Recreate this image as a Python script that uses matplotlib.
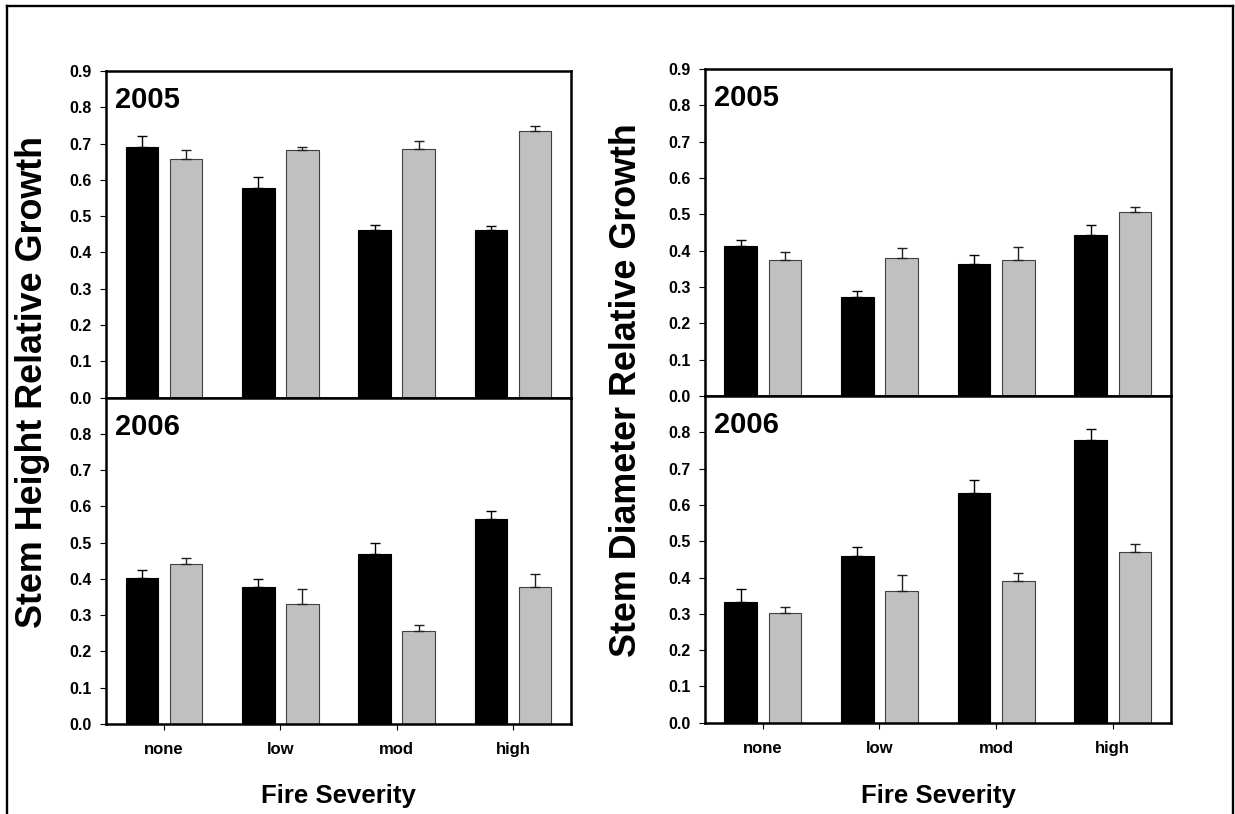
import numpy as np
import matplotlib
matplotlib.use('Agg')
import matplotlib.pyplot as plt
from matplotlib.lines import Line2D

# Fonte parecida com Arial em negrito
plt.rcParams['font.family'] = ['Liberation Sans', 'DejaVu Sans']
plt.rcParams['font.weight'] = 'bold'

# Categorias de severidade do fogo
categorias = ['none', 'low', 'mod', 'high']

# Altura do caule - 2005
altura_2005_preto = [0.691, 0.577, 0.462, 0.461]
altura_2005_preto_err = [0.029, 0.032, 0.015, 0.011]
altura_2005_cinza = [0.657, 0.681, 0.686, 0.736]
altura_2005_cinza_err = [0.024, 0.011, 0.021, 0.012]

# Altura do caule - 2006
altura_2006_preto = [0.402, 0.378, 0.470, 0.565]
altura_2006_preto_err = [0.022, 0.023, 0.028, 0.022]
altura_2006_cinza = [0.441, 0.332, 0.256, 0.379]
altura_2006_cinza_err = [0.016, 0.041, 0.018, 0.034]

# Diametro do caule - 2005
diam_2005_preto = [0.413, 0.272, 0.362, 0.442]
diam_2005_preto_err = [0.017, 0.018, 0.027, 0.028]
diam_2005_cinza = [0.374, 0.381, 0.374, 0.507]
diam_2005_cinza_err = [0.022, 0.026, 0.037, 0.014]

# Diametro do caule - 2006
diam_2006_preto = [0.332, 0.460, 0.632, 0.780]
diam_2006_preto_err = [0.037, 0.024, 0.037, 0.030]
diam_2006_cinza = [0.302, 0.362, 0.390, 0.469]
diam_2006_cinza_err = [0.017, 0.045, 0.023, 0.024]

W, H = 1235, 814
fig = plt.figure(figsize=(W / 100, H / 100), dpi=100)


def painel(rect, preto, preto_err, cinza, cinza_err, ano, ymax_tick, xlabels):
    ax = fig.add_axes(rect)
    x = np.arange(len(categorias))
    largura = 0.28
    ax.bar(x - 0.19, preto, largura, color='black', edgecolor='black', linewidth=0.8, zorder=2)
    ax.bar(x + 0.19, cinza, largura, color='#c0c0c0', edgecolor='#404040', linewidth=0.8, zorder=2)
    zeros = np.zeros(len(categorias))
    # so a parte de cima do erro aparece
    ax.errorbar(x - 0.19, preto, yerr=[zeros, preto_err], fmt='none', ecolor='black',
                elinewidth=1, capsize=3.6, capthick=1, zorder=3)
    ax.errorbar(x + 0.19, cinza, yerr=[zeros, cinza_err], fmt='none', ecolor='#202020',
                elinewidth=1, capsize=3.6, capthick=1, zorder=3)
    ax.set_xlim(-0.5, 3.5)
    ax.set_ylim(0, 0.9)
    yt = np.arange(0, ymax_tick + 0.001, 0.1)
    ax.set_yticks(yt)
    ax.set_yticklabels(['%.1f' % v for v in yt], fontsize=11.5, fontweight='bold')
    ax.set_xticks(x)
    if xlabels:
        ax.set_xticklabels(categorias, fontsize=12, fontweight='bold')
    else:
        ax.set_xticklabels([])
    ax.tick_params(axis='y', direction='out', length=4, width=0.8, pad=6)
    ax.tick_params(axis='x', direction='out', length=4, width=0.8, pad=9)
    for s in ax.spines.values():
        s.set_linewidth(1.8)
    ax.text(0.02, 0.91, ano, transform=ax.transAxes, fontsize=21, fontweight='bold',
            ha='left', va='center')
    return ax


# Coordenadas dos paineis (em pixels convertidos para fração da figura)
def ret(x0, x1, ytop, ybot):
    return [x0 / W, 1 - ybot / H, (x1 - x0) / W, (ybot - ytop) / H]


painel(ret(106, 571, 71, 397.7), altura_2005_preto, altura_2005_preto_err,
       altura_2005_cinza, altura_2005_cinza_err, '2005', 0.9, False)
painel(ret(106, 571, 397.7, 724), altura_2006_preto, altura_2006_preto_err,
       altura_2006_cinza, altura_2006_cinza_err, '2006', 0.8, True)
painel(ret(704.5, 1171, 69, 396), diam_2005_preto, diam_2005_preto_err,
       diam_2005_cinza, diam_2005_cinza_err, '2005', 0.9, False)
painel(ret(704.5, 1171, 396, 722.7), diam_2006_preto, diam_2006_preto_err,
       diam_2006_cinza, diam_2006_cinza_err, '2006', 0.8, True)

# Rotulos dos eixos
fig.text(33 / W, 1 - 382 / H, 'Stem Height Relative Growth', rotation=90,
         fontsize=25.8, fontweight='bold', ha='center', va='center')
fig.text(627 / W, 1 - 390 / H, 'Stem Diameter Relative Growth', rotation=90,
         fontsize=25.8, fontweight='bold', ha='center', va='center')
fig.text(338 / W, 1 - 796 / H, 'Fire Severity', fontsize=18.5, fontweight='bold',
         ha='center', va='center')
fig.text(938 / W, 1 - 796 / H, 'Fire Severity', fontsize=18.5, fontweight='bold',
         ha='center', va='center')

# Moldura externa (sem a linha de baixo)
xe, xd, yt_ = 7 / W, 1233 / W, 1 - 6 / H
for xs, ys in [([xe, xe], [0, yt_]), ([xe, xd], [yt_, yt_]), ([xd, xd], [yt_, 0])]:
    fig.add_artist(Line2D(xs, ys, color='black', linewidth=1.7))

plt.savefig('out.png', dpi=100)
